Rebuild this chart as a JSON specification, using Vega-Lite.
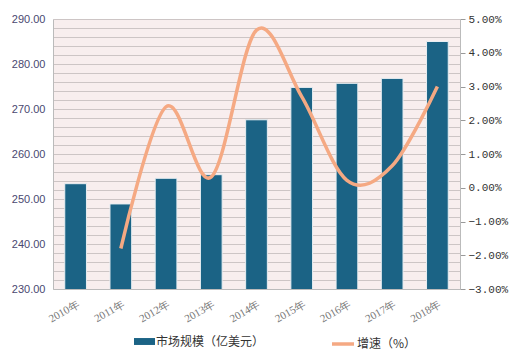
{
  "$schema": "https://vega.github.io/schema/vega-lite/v6.json",
  "width": 407,
  "height": 270,
  "autosize": {"type": "none"},
  "padding": {"left": 53, "top": 19, "right": 60, "bottom": 71},
  "background": "white",
  "config": {
    "view": {"fill": "#f8eeee", "stroke": null},
    "font": "Liberation Sans"
  },
  "data": {
    "values": [
      {"year": "2010年", "scale": 253.4, "growth": null},
      {"year": "2011年", "scale": 248.9, "growth": -1.8},
      {"year": "2012年", "scale": 254.6, "growth": 2.4},
      {"year": "2013年", "scale": 255.4, "growth": 0.32},
      {"year": "2014年", "scale": 267.6, "growth": 4.67},
      {"year": "2015年", "scale": 274.8, "growth": 2.7},
      {"year": "2016年", "scale": 275.7, "growth": 0.22},
      {"year": "2017年", "scale": 276.8, "growth": 0.65},
      {"year": "2018年", "scale": 285.0, "growth": 3.0}
    ]
  },
  "layer": [
    {
      "mark": {"type": "bar", "stroke": "#e8eef2", "strokeWidth": 1, "clip": true},
      "encoding": {
        "x": {
          "field": "year", "type": "ordinal", "sort": null,
          "scale": {"paddingInner": 0.52, "paddingOuter": 0.26},
          "axis": {
            "title": null, "labelAngle": -30, "ticks": false,
            "domainColor": "#bbbbbb", "labelColor": "#777777",
            "labelFont": "Liberation Serif", "labelFontSize": 11,
            "labelPadding": 9
          }
        },
        "y": {
          "field": "scale", "type": "quantitative",
          "scale": {"domain": [230, 290], "nice": false, "zero": false},
          "axis": {
            "title": null,
            "values": [230,232,234,236,238,240,242,244,246,248,250,252,254,256,258,260,262,264,266,268,270,272,274,276,278,280,282,284,286,288,290],
            "labelExpr": "datum.value % 10 === 0 ? format(datum.value, '.2f') : ''",
            "ticks": false, "grid": true, "gridColor": "#cdc5c5", "gridWidth": 1,
            "domainColor": "#bbbbbb", "labelColor": "#4a4870",
            "labelFontSize": 11, "labelPadding": 8
          }
        },
        "fill": {
          "datum": "市场规模（亿美元）", "type": "nominal",
          "scale": {"range": ["#1b6385"]},
          "legend": {
            "title": null, "orient": "none", "legendX": 81, "legendY": 312,
            "symbolType": "M-1,-0.33h2v0.66h-2z", "symbolSize": 441,
            "symbolStrokeWidth": 0, "labelOffset": 1,
            "labelFont": "Noto Sans CJK SC", "labelFontSize": 12, "labelColor": "#333333"
          }
        }
      }
    },
    {
      "transform": [{"filter": "datum.growth != null"}],
      "mark": {"type": "line", "interpolate": "cardinal", "strokeWidth": 3.5},
      "encoding": {
        "x": {"field": "year", "type": "ordinal", "sort": null},
        "y": {
          "field": "growth", "type": "quantitative",
          "scale": {"domain": [-3, 5], "nice": false, "zero": false},
          "axis": {
            "orient": "right", "title": null, "grid": false,
            "values": [-3,-2,-1,0,1,2,3,4,5],
            "labelExpr": "format(datum.value, '.2f') + '%'",
            "tickSize": 5, "tickColor": "#999999", "domainColor": "#bbbbbb",
            "labelFont": "Liberation Mono", "labelFontSize": 11, "labelColor": "#333333",
            "labelPadding": 3
          }
        },
        "stroke": {
          "datum": "增速（%）", "type": "nominal",
          "scale": {"range": ["#f5a983"]},
          "legend": {
            "title": null, "orient": "none", "legendX": 277, "legendY": 312,
            "symbolType": "stroke", "symbolSize": 484, "symbolStrokeWidth": 3.5,
            "labelOffset": 1,
            "labelFont": "Noto Sans CJK SC", "labelFontSize": 12, "labelColor": "#333333"
          }
        }
      }
    }
  ],
  "resolve": {"scale": {"y": "independent"}}
}
